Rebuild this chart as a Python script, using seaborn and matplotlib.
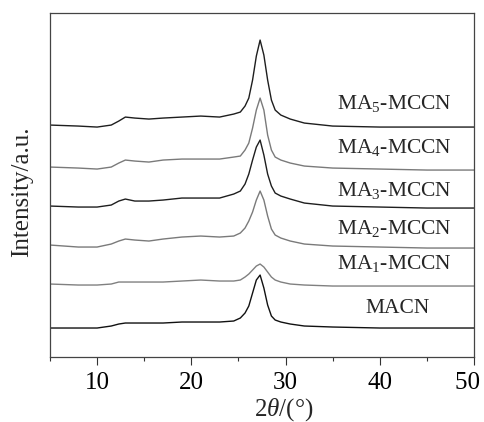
import pandas as pd
import matplotlib.pyplot as plt
import seaborn as sns
from matplotlib.ticker import MultipleLocator

# --- Дані (криві вже зі зсувом по осі y) ---

two_theta = [5, 8, 10, 11.5, 12.3, 13, 14, 15.5, 17, 19, 21, 23, 24.5,
             25.2, 25.7, 26.1, 26.5, 26.9, 27.3, 27.7, 28.1, 28.5, 28.9, 29.5, 30.5,
             32, 35, 40, 45, 50]

ma5_mccn = [232, 231, 230, 232, 236, 240, 239, 238, 239, 240, 241, 240, 243,
            245, 251, 259, 277, 301, 317, 302, 277, 257, 247, 242, 238,
            234, 231, 230, 230, 230]
ma4_mccn = [190, 189, 188, 190, 194, 197, 196, 195, 197, 198, 198, 198, 200,
            201, 207, 214, 229, 247, 259, 247, 222, 207, 200, 197, 194,
            191, 189, 188, 187, 187]
ma3_mccn = [151, 150, 150, 152, 156, 158, 156, 156, 157, 159, 159, 159, 163,
            166, 173, 183, 197, 210, 217, 202, 183, 171, 164, 161, 158,
            154, 151, 150, 149, 149]
ma2_mccn = [112, 110, 110, 113, 116, 118, 117, 116, 118, 120, 121, 120, 121,
            124, 129, 136, 145, 157, 166, 157, 141, 128, 122, 119, 116,
            113, 111, 110, 109, 109]
ma1_mccn = [73, 72, 72, 73, 75, 75, 75, 75, 75, 76, 77, 76, 76,
            77, 80, 83, 87, 91, 93, 90, 85, 80, 77, 75, 73,
            72, 71, 71, 71, 71]
macn = [29, 29, 29, 31, 33, 34, 34, 34, 34, 35, 35, 35, 36,
        39, 44, 51, 64, 77, 82, 69, 52, 41, 37, 35, 33,
        31, 30, 29, 29, 29]

samples = ['MA5-MCCN', 'MA4-MCCN', 'MA3-MCCN', 'MA2-MCCN', 'MA1-MCCN', 'MACN']
labels = [r'MA$_5$-MCCN', r'MA$_4$-MCCN', r'MA$_3$-MCCN', r'MA$_2$-MCCN',
          r'MA$_1$-MCCN', 'MACN']
label_x = [41.6, 41.6, 41.6, 41.6, 41.6, 41.9]
label_y = [254, 210, 167, 129, 94, 49]
colors = ['#1e1e1e', '#7a7a7a', '#1e1e1e', '#7a7a7a', '#808080', '#111111']

x_ticks = [10, 20, 30, 40, 50]
# у "50" два пробіли в кінці, щоб мітка трохи відсунулась від краю
x_ticklabels = ['10', '20', '30', '40', '50  ']

series = [ma5_mccn, ma4_mccn, ma3_mccn, ma2_mccn, ma1_mccn, macn]
df = pd.concat([pd.DataFrame({'two_theta': two_theta, 'intensity': s, 'sample': name})
                for name, s in zip(samples, series)], ignore_index=True)

# --- Стиль ---

sns.set_style('ticks')
plt.rcParams['font.family'] = ['Liberation Serif', 'DejaVu Serif']
plt.rcParams['mathtext.fontset'] = 'custom'
plt.rcParams['mathtext.rm'] = 'Liberation Serif'
plt.rcParams['mathtext.it'] = 'Liberation Serif:italic'

fig = plt.figure(figsize=(4.84, 4.22), dpi=100)
ax = fig.add_axes([0.1033, 0.154, 0.876, 0.815])

sns.lineplot(data=df, x='two_theta', y='intensity', hue='sample',
             palette=dict(zip(samples, colors)), linewidth=1.0,
             legend=False, ax=ax, sort=True)

for txt, x, y in zip(labels, label_x, label_y):
    ax.text(x, y, txt, ha='center', va='center', fontsize=15.5)

ax.set_xlim(5, 50)
ax.set_ylim(0, 344)
ax.set_xticks(x_ticks, labels=x_ticklabels)
ax.xaxis.set_minor_locator(MultipleLocator(5))
ax.tick_params(axis='x', which='major', direction='out', length=6, width=0.8,
               labelsize=18, pad=5, colors='#333333', labelcolor='black')
ax.tick_params(axis='x', which='minor', direction='out', length=3, width=0.8,
               colors='#333333')
ax.set_yticks([])

for sp in ax.spines.values():
    sp.set_visible(True)
    sp.set_color('#444444')
    sp.set_linewidth(0.9)

ax.set_xlabel(r'2$\mathit{\theta}$/(°)', fontsize=18)
ax.xaxis.set_label_coords(0.552, -0.113)
ax.set_ylabel('Intensity/a.u.', fontsize=18)
ax.yaxis.set_label_coords(-0.04, 0.48)

fig.savefig('out.png', dpi=100)
plt.close(fig)
